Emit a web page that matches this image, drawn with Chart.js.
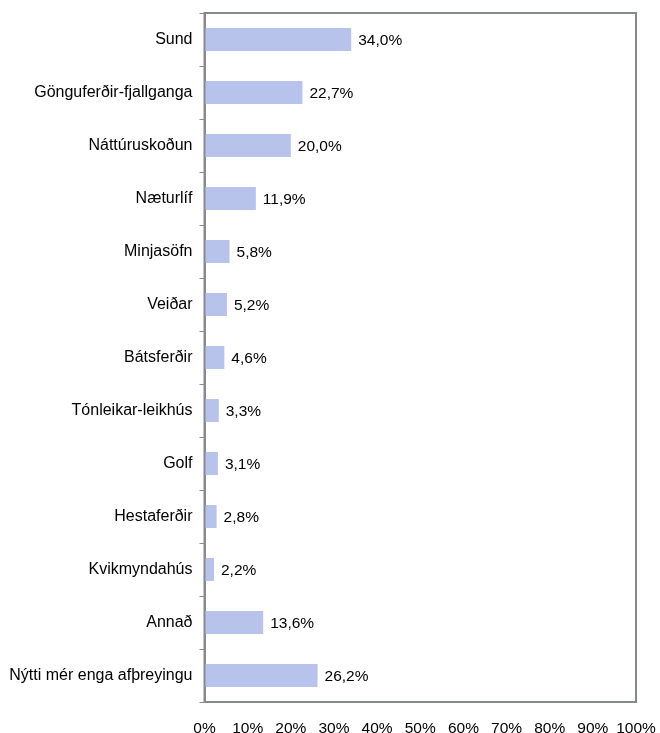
<!DOCTYPE html>
<html>
<head>
<meta charset="utf-8">
<script src="https://cdn.jsdelivr.net/npm/chart.js@4/dist/chart.umd.min.js"></script>
<style>
html,body{margin:0;padding:0;background:#fff;}
#wrap{width:660px;height:733px;position:relative;}
</style>
</head>
<body>
<div id="wrap"><canvas id="c" width="660" height="733"></canvas></div>
<script>
const categories = ["Sund","Gönguferðir-fjallganga","Náttúruskoðun","Næturlíf","Minjasöfn","Veiðar","Bátsferðir","Tónleikar-leikhús","Golf","Hestaferðir","Kvikmyndahús","Annað","Nýtti mér enga afþreyingu"];
const values = [34.0,22.7,20.0,11.9,5.8,5.2,4.6,3.3,3.1,2.8,2.2,13.6,26.2];
const xTicks = [0,10,20,30,40,50,60,70,80,90,100];

const FONT = "'Liberation Sans', Arial, sans-serif";

const frame = {
  id:'frame',
  afterDatasetsDraw(chart){
    const {ctx, chartArea:a} = chart;
    ctx.save();
    ctx.strokeStyle = '#868991';
    ctx.lineWidth = 2;
    ctx.strokeRect(a.left, a.top, a.right-a.left, a.bottom-a.top);
    ctx.restore();
    const meta = chart.getDatasetMeta(0);
    ctx.save();
    ctx.fillStyle = '#000';
    ctx.font = '15.5px ' + FONT;
    ctx.textBaseline = 'middle';
    ctx.textAlign = 'left';
    meta.data.forEach((el,i)=>{
      const t = values[i].toFixed(1).replace('.', ',') + '%';
      ctx.fillText(t, el.x + 7, el.y + 1);
    });
    ctx.restore();
  }
};

new Chart(document.getElementById('c'), {
  type:'bar',
  data:{
    labels: categories,
    datasets:[{
      data: values,
      backgroundColor:'#b8c3ec',
      borderWidth:0,
      barPercentage:0.87,
      categoryPercentage:0.5
    }]
  },
  options:{
    indexAxis:'y',
    responsive:false,
    animation:false,
    devicePixelRatio:1,
    layout:{padding:{top:13, right:0, left:0, bottom:0}},
    plugins:{legend:{display:false}, tooltip:{enabled:false}},
    scales:{
      y:{
        grid:{display:true, drawOnChartArea:false, drawTicks:true, tickLength:5, color:'#868991', lineWidth:1, offset:true},
        border:{display:true, color:'#868991', width:2},
        ticks:{color:'#000', font:{family:FONT, size:16}, padding:7, autoSkip:false},
        afterFit(s){ s.width = 204.5; s.paddingTop = 0; s.paddingBottom = 0; }
      },
      x:{
        min:0, max:100,
        afterBuildTicks(s){ s.ticks = xTicks.map(v=>({value:v})); },
        grid:{display:false, drawTicks:false},
        border:{display:true, color:'#868991', width:2},
        ticks:{color:'#000', font:{family:FONT, size:15.5}, padding:17, callback:(v)=>v+'%', maxRotation:0, autoSkip:false},
        afterFit(s){ s.height = 31; s.paddingRight = 24; s.paddingLeft = 0; }
      }
    }
  },
  plugins:[frame]
});
</script>
</body>
</html>
